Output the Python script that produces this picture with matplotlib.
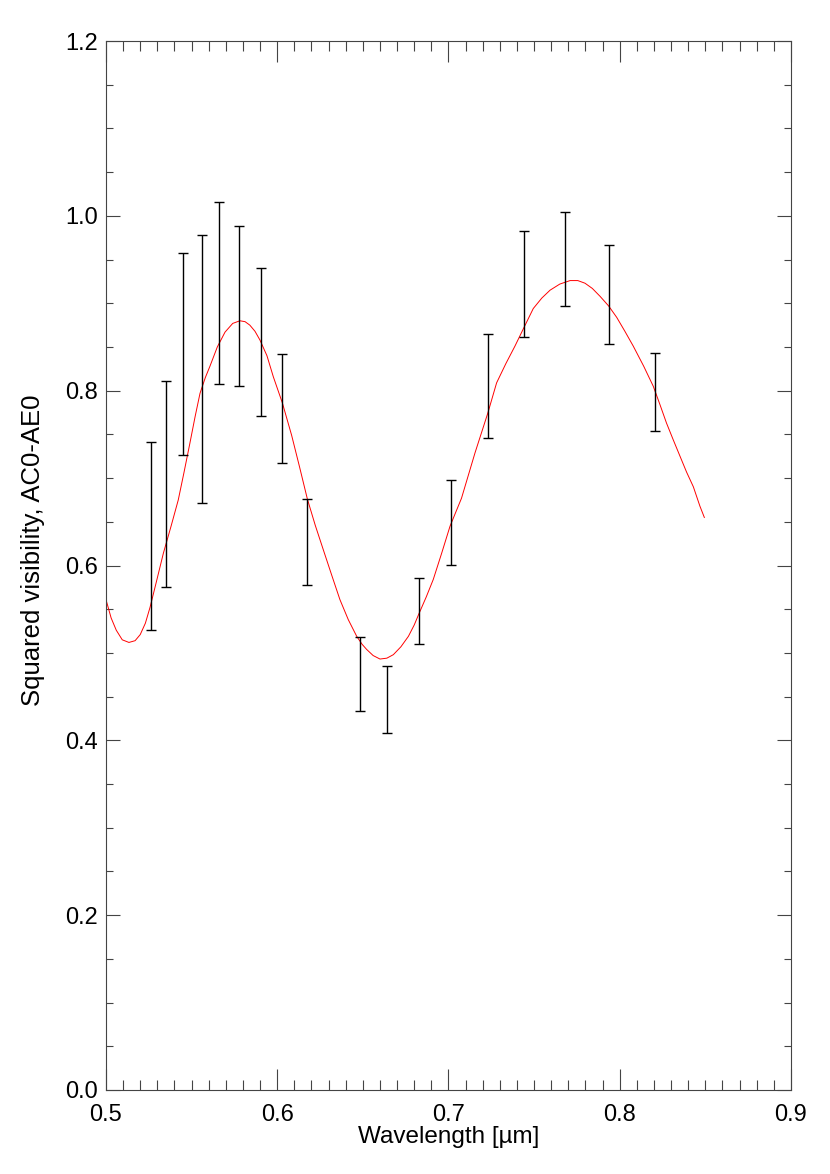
import matplotlib
matplotlib.use("Agg")
import matplotlib.pyplot as plt
import numpy as np
from matplotlib.ticker import MultipleLocator, FormatStrFormatter

plt.rcParams['font.family'] = ['Liberation Sans', 'DejaVu Sans']

# measured squared visibilities (bar top / bottom)
wl = [0.5263, 0.5349, 0.5448, 0.5563, 0.5662, 0.5775, 0.5905, 0.6030, 0.6176,
      0.6485, 0.6641, 0.6830, 0.7012, 0.7229, 0.7441, 0.7682, 0.7937, 0.8208]
v2_hi = [0.741, 0.811, 0.958, 0.978, 1.016, 0.989, 0.940, 0.842, 0.676,
         0.518, 0.485, 0.586, 0.698, 0.865, 0.983, 1.005, 0.967, 0.843]
v2_lo = [0.526, 0.575, 0.727, 0.671, 0.808, 0.805, 0.771, 0.717, 0.578,
         0.434, 0.408, 0.510, 0.601, 0.746, 0.861, 0.897, 0.854, 0.754]

# model curve
mod_wl = [0.5000, 0.5030, 0.5060, 0.5095, 0.5134, 0.5170, 0.5200, 0.5230, 0.5257,
          0.5295, 0.5335, 0.5380, 0.5422, 0.5455, 0.5490, 0.5520, 0.5549, 0.5580,
          0.5607, 0.5650, 0.5695, 0.5740, 0.5782, 0.5812, 0.5840, 0.5870, 0.5899,
          0.5940, 0.5977, 0.6030, 0.6084, 0.6130, 0.6176, 0.6222, 0.6269, 0.6318,
          0.6366, 0.6415, 0.6464, 0.6495, 0.6522, 0.6560, 0.6600, 0.6640, 0.6678,
          0.6722, 0.6766, 0.6800, 0.6830, 0.6870, 0.6911, 0.6960, 0.7009, 0.7076,
          0.7155, 0.7229, 0.7281, 0.7335, 0.7388, 0.7440, 0.7495, 0.7545, 0.7593,
          0.7650, 0.7710, 0.7755, 0.7797, 0.7840, 0.7885, 0.7935, 0.7982, 0.8030,
          0.8079, 0.8140, 0.8196, 0.8235, 0.8273, 0.8312, 0.8352, 0.8390, 0.8430,
          0.8468, 0.8494]
mod_v2 = [0.561, 0.540, 0.526, 0.515, 0.512, 0.514, 0.521, 0.534, 0.552,
          0.582, 0.614, 0.645, 0.675, 0.706, 0.740, 0.770, 0.797, 0.815,
          0.828, 0.850, 0.867, 0.877, 0.880, 0.879, 0.875, 0.868, 0.858,
          0.840, 0.816, 0.786, 0.749, 0.713, 0.676, 0.646, 0.618, 0.589,
          0.561, 0.538, 0.519, 0.510, 0.504, 0.497, 0.493, 0.494, 0.498,
          0.507, 0.519, 0.532, 0.546, 0.564, 0.584, 0.614, 0.645, 0.677,
          0.729, 0.774, 0.809, 0.831, 0.851, 0.872, 0.894, 0.906, 0.915,
          0.922, 0.926, 0.926, 0.923, 0.917, 0.908, 0.897, 0.884, 0.868,
          0.851, 0.828, 0.805, 0.784, 0.763, 0.744, 0.725, 0.707, 0.690,
          0.668, 0.655]

wl = np.array(wl)
hi = np.array(v2_hi)
lo = np.array(v2_lo)
mid = (hi + lo) / 2
err = (hi - lo) / 2

fig = plt.figure(figsize=(8.3, 11.74), dpi=100)
ax = fig.add_axes([0.1277, 0.0716, 0.8253, 0.8934])

ax.plot(mod_wl, mod_v2, color='red', lw=0.7)
ax.errorbar(wl, mid, yerr=err, fmt='none', ecolor='black', elinewidth=1.0,
            capsize=3.5, capthick=1.0)

ax.set_xlim(0.5, 0.9)
ax.set_ylim(0.0, 1.2)
ax.xaxis.set_major_locator(MultipleLocator(0.1))
ax.xaxis.set_minor_locator(MultipleLocator(0.01))
ax.yaxis.set_major_locator(MultipleLocator(0.2))
ax.yaxis.set_minor_locator(MultipleLocator(0.05))
ax.xaxis.set_major_formatter(FormatStrFormatter('%.1f'))
ax.yaxis.set_major_formatter(FormatStrFormatter('%.1f'))

ax.tick_params(axis='x', which='major', direction='in', length=15, width=0.8,
               top=True, labelsize=17, pad=10, color='#444444')
ax.tick_params(axis='x', which='minor', direction='in', length=7.5, width=0.8,
               top=True, color='#444444')
ax.tick_params(axis='y', which='major', direction='in', length=10, width=0.8,
               right=True, labelsize=17, pad=6, color='#444444')
ax.tick_params(axis='y', which='minor', direction='in', length=5, width=0.8,
               right=True, color='#444444')
for s in ax.spines.values():
    s.set_linewidth(0.8)
    s.set_color('#444444')

ax.set_xlabel('Wavelength [\u00b5m]', fontsize=17.5, labelpad=0)
ax.set_ylabel('Squared visibility, AC0-AE0', fontsize=18.5)
ax.yaxis.set_label_coords(-0.089, 0.515)

fig.savefig('out.png', dpi=100)
